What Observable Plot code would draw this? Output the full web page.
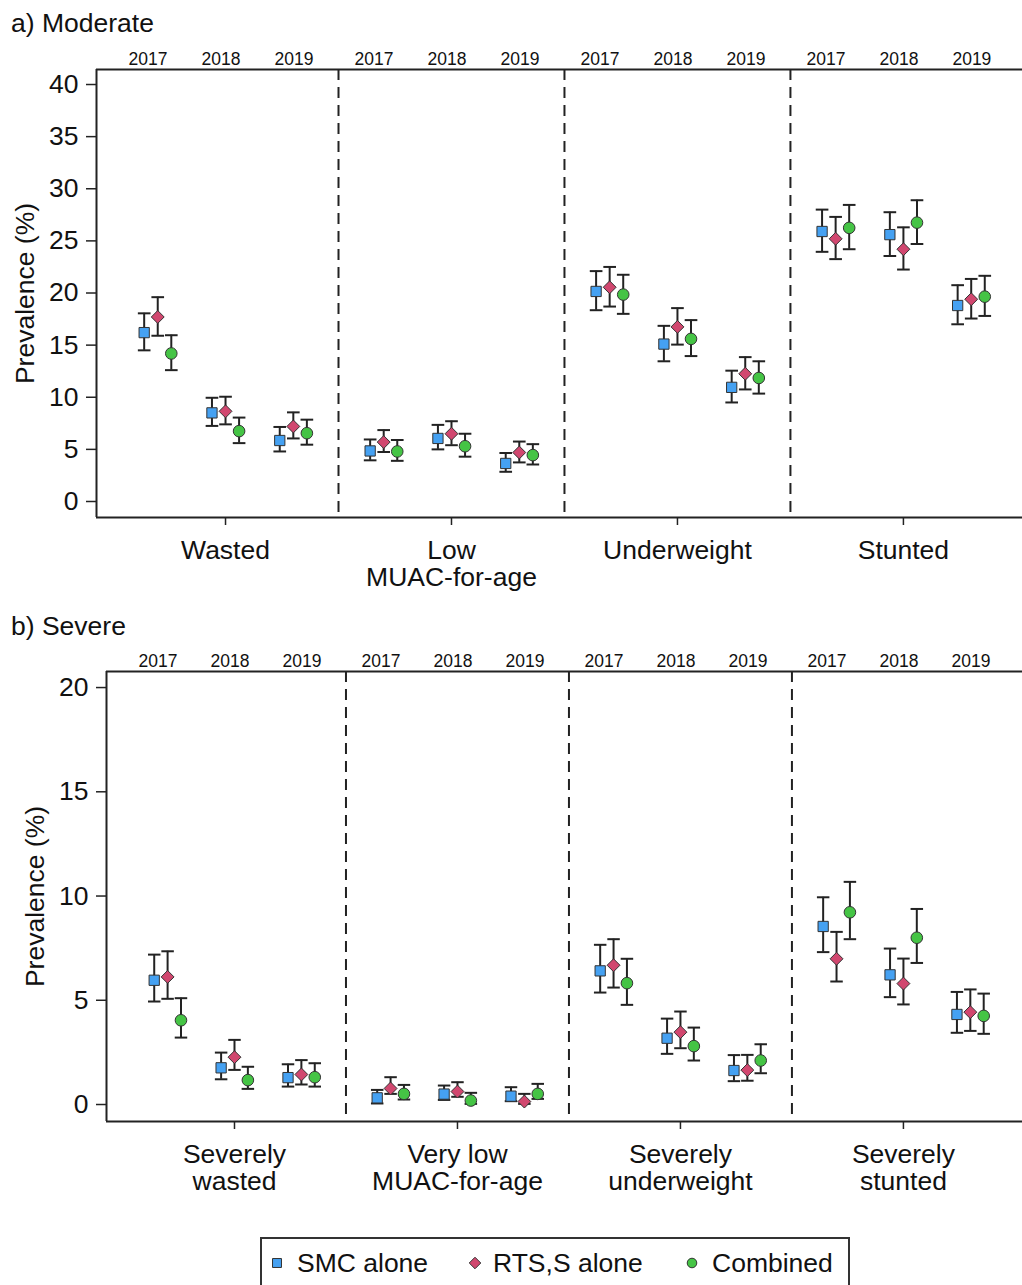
<!DOCTYPE html>
<html>
<head>
<meta charset="utf-8">
<script src="https://cdn.jsdelivr.net/npm/d3@7"></script>
<script src="https://cdn.jsdelivr.net/npm/@observablehq/plot@0.6"></script>
<style>
html, body { margin: 0; padding: 0; background: #fff; }
body { width: 1022px; height: 1285px; position: relative; overflow: hidden;
       font-family: "Liberation Sans", Arial, sans-serif; color: #111; }
.title { position: absolute; left: 11px; font-size: 26.5px; line-height: 26px; white-space: pre; }
#panelA { position: absolute; left: 0; top: 36px; }
#panelB { position: absolute; left: 0; top: 640px; }
#legend { position: absolute; left: 260px; top: 1237px; width: 590px; height: 90px;
          border: 2px solid #333; box-sizing: border-box; }
.lg-mark { position: absolute; }
.lg-text { position: absolute; top: 11px; font-size: 26.5px; line-height: 26px; white-space: pre; }
</style>
</head>
<body>
<div class="title" style="top:10px">a) Moderate</div>
<div id="panelA"></div>
<div class="title" style="top:613px">b) Severe</div>
<div id="panelB"></div>
<div id="legend"></div>
<script>
// ---------- data ----------
const years = [2017, 2018, 2019];
const series = ["SMC alone", "RTS,S alone", "Combined"];
const seriesColors = ["#45a1f2", "#d1476f", "#45c445"];
const seriesSymbols = ["square", "diamond2", "circle"];

const moderateCategories = ["Wasted", "Low\nMUAC-for-age", "Underweight", "Stunted"];
const severeCategories = ["Severely\nwasted", "Very low\nMUAC-for-age", "Severely\nunderweight", "Severely\nstunted"];
const moderateTicks = [0, 5, 10, 15, 20, 25, 30, 35, 40];
const severeTicks = [0, 5, 10, 15, 20];

// Moderate: order = category x year (2017, 2018, 2019)
const modSMC    = [16.2, 8.5, 5.85, 4.85, 6.05, 3.65, 20.15, 15.1, 10.95, 25.9, 25.6, 18.8];
const modSMCLo  = [14.5, 7.25, 4.8, 3.95, 5.0, 2.85, 18.35, 13.45, 9.5, 23.95, 23.55, 17.0];
const modSMCHi  = [18.05, 9.95, 7.15, 5.95, 7.35, 4.65, 22.1, 16.85, 12.55, 28.0, 27.75, 20.75];
const modRTS    = [17.7, 8.65, 7.2, 5.7, 6.5, 4.7, 20.55, 16.75, 12.25, 25.2, 24.2, 19.4];
const modRTSLo  = [15.9, 7.4, 6.05, 4.75, 5.4, 3.75, 18.7, 15.05, 10.75, 23.25, 22.25, 17.55];
const modRTSHi  = [19.6, 10.05, 8.55, 6.85, 7.7, 5.75, 22.5, 18.55, 13.85, 27.3, 26.3, 21.35];
const modComb   = [14.2, 6.75, 6.55, 4.8, 5.3, 4.45, 19.85, 15.6, 11.85, 26.25, 26.75, 19.65];
const modCombLo = [12.6, 5.6, 5.45, 3.9, 4.3, 3.55, 18.0, 13.95, 10.35, 24.2, 24.7, 17.8];
const modCombHi = [15.95, 8.05, 7.85, 5.9, 6.5, 5.5, 21.75, 17.4, 13.45, 28.45, 28.9, 21.65];

// Severe
const sevSMC    = [5.96, 1.76, 1.29, 0.32, 0.5, 0.4, 6.41, 3.18, 1.63, 8.54, 6.22, 4.32];
const sevSMCLo  = [4.94, 1.21, 0.86, 0.05, 0.22, 0.16, 5.37, 2.43, 1.12, 7.31, 5.15, 3.44];
const sevSMCHi  = [7.19, 2.49, 1.93, 0.7, 0.91, 0.83, 7.66, 4.12, 2.37, 9.94, 7.48, 5.4];
const sevRTS    = [6.12, 2.27, 1.44, 0.77, 0.62, 0.14, 6.68, 3.47, 1.65, 6.99, 5.8, 4.43];
const sevRTSLo  = [5.07, 1.66, 0.96, 0.51, 0.37, 0.03, 5.61, 2.7, 1.14, 5.9, 4.8, 3.53];
const sevRTSHi  = [7.35, 3.1, 2.13, 1.31, 1.07, 0.51, 7.93, 4.46, 2.38, 8.28, 7.0, 5.52];
const sevComb   = [4.04, 1.17, 1.31, 0.51, 0.19, 0.51, 5.82, 2.8, 2.11, 9.22, 8.0, 4.25];
const sevCombLo = [3.21, 0.75, 0.86, 0.24, 0.03, 0.27, 4.78, 2.11, 1.5, 7.93, 6.79, 3.39];
const sevCombHi = [5.1, 1.81, 1.98, 0.94, 0.56, 0.99, 6.99, 3.69, 2.89, 10.68, 9.38, 5.32];

// ---------- build ----------
function buildRows(categories, est, lo, hi) {
  const rows = [];
  categories.forEach((_, c) => years.forEach((yr, yi) => series.forEach((s, si) => {
    const k = c * years.length + yi;
    rows.push({series: s, year: yr, x: c * 10 + (yi - 1) * 3 + (si - 1) * 0.6,
               est: est[si][k], lo: lo[si][k], hi: hi[si][k]});
  })));
  return rows;
}

const INK = "#222";

function panel({categories, rows, ticks, yDomain, xDomain, height, marginLeft, marginTop, marginBottom}) {
  const yearRows = categories.flatMap((_, c) => years.map((yr, yi) => ({x: c * 10 - 0.2 + (yi - 1) * 3.23, label: String(yr)})));
  const catRows = categories.map((label, c) => ({x: c * 10, label}));
  const dividers = d3.range(1, categories.length).map(c => c * 10 - 5);
  return Plot.plot({
    width: 1022, height, marginLeft, marginRight: 0, marginTop, marginBottom,
    x: {domain: xDomain, label: null},
    y: {domain: yDomain, label: null},
    color: {domain: series, range: seriesColors},
    symbol: {domain: series, range: seriesSymbols},
    style: {fontFamily: '"Liberation Sans", Arial, sans-serif', fontSize: "26.5px", color: "#111",
            background: "transparent", overflow: "visible"},
    marks: [
      Plot.ruleX(dividers, {stroke: INK, strokeWidth: 2, strokeDasharray: "11,7"}),
      Plot.ruleY([yDomain[0], yDomain[1]], {stroke: INK, strokeWidth: 2}),
      Plot.ruleX([xDomain[0]], {stroke: INK, strokeWidth: 2}),
      Plot.axisY({ticks, label: null, tickSize: 10, tickPadding: 8, fontSize: 26.5, stroke: INK, strokeWidth: 1.5}),
      Plot.axisX({ticks: catRows.map(d => d.x), label: null, tickSize: 8, tickFormat: () => "", stroke: INK, strokeWidth: 1.5}),
      Plot.text(yearRows, {x: "x", text: "label", frameAnchor: "top", lineAnchor: "bottom", dy: -4.5, fontSize: 17.5}),
      Plot.text(catRows, {x: "x", text: "label", frameAnchor: "bottom", lineAnchor: "top", dy: 22, fontSize: 26.5, lineHeight: 1.03}),
      Plot.text(["Prevalence (%)"], {frameAnchor: "left", rotate: -90, dx: -71, textAnchor: "middle", lineAnchor: "middle", fontSize: 26.5}),
      Plot.ruleX(rows, {x: "x", y1: "lo", y2: "hi", stroke: INK, strokeWidth: 2}),
      Plot.link(rows, {x1: d => d.x - 0.28, x2: d => d.x + 0.28, y1: "lo", y2: "lo", stroke: INK, strokeWidth: 2}),
      Plot.link(rows, {x1: d => d.x - 0.28, x2: d => d.x + 0.28, y1: "hi", y2: "hi", stroke: INK, strokeWidth: 2}),
      Plot.dot(rows, {x: "x", y: "est", fill: "series", symbol: "series", r: 5.8, stroke: "#333", strokeWidth: 1})
    ]
  });
}

const modRows = buildRows(moderateCategories,
  [modSMC, modRTS, modComb], [modSMCLo, modRTSLo, modCombLo], [modSMCHi, modRTSHi, modCombHi]);
const sevRows = buildRows(severeCategories,
  [sevSMC, sevRTS, sevComb], [sevSMCLo, sevRTSLo, sevCombLo], [sevSMCHi, sevRTSHi, sevCombHi]);

document.getElementById("panelA").appendChild(panel({
  categories: moderateCategories, rows: modRows, ticks: moderateTicks,
  yDomain: [-1.535, 41.44], xDomain: [-5.71, 35.27],
  height: 559, marginLeft: 96, marginTop: 33, marginBottom: 78
}));
document.getElementById("panelB").appendChild(panel({
  categories: severeCategories, rows: sevRows, ticks: severeTicks,
  yDomain: [-0.815, 20.77], xDomain: [-5.74, 35.34],
  height: 560, marginLeft: 106, marginTop: 31, marginBottom: 79
}));

// ---------- legend ----------
const legend = document.getElementById("legend");
const markX = [15, 213, 430];
const textX = [35, 231, 450];
const markSymbols = [d3.symbolSquare, d3.symbolDiamond2, d3.symbolCircle];
const markSizes = [80, 85, 72];
const ns = "http://www.w3.org/2000/svg";
series.forEach((s, i) => {
  const svg = document.createElementNS(ns, "svg");
  svg.setAttribute("width", 20); svg.setAttribute("height", 20);
  svg.setAttribute("class", "lg-mark");
  svg.style.left = (markX[i] - 10) + "px";
  svg.style.top = (24 - 10) + "px";
  const p = document.createElementNS(ns, "path");
  p.setAttribute("d", d3.symbol(markSymbols[i], markSizes[i])());
  p.setAttribute("transform", "translate(10,10)");
  p.setAttribute("fill", seriesColors[i]);
  p.setAttribute("stroke", "#333");
  p.setAttribute("stroke-width", 1);
  svg.appendChild(p);
  legend.appendChild(svg);
  const t = document.createElement("div");
  t.className = "lg-text";
  t.style.left = textX[i] + "px";
  t.textContent = s;
  legend.appendChild(t);
});
</script>
</body>
</html>
